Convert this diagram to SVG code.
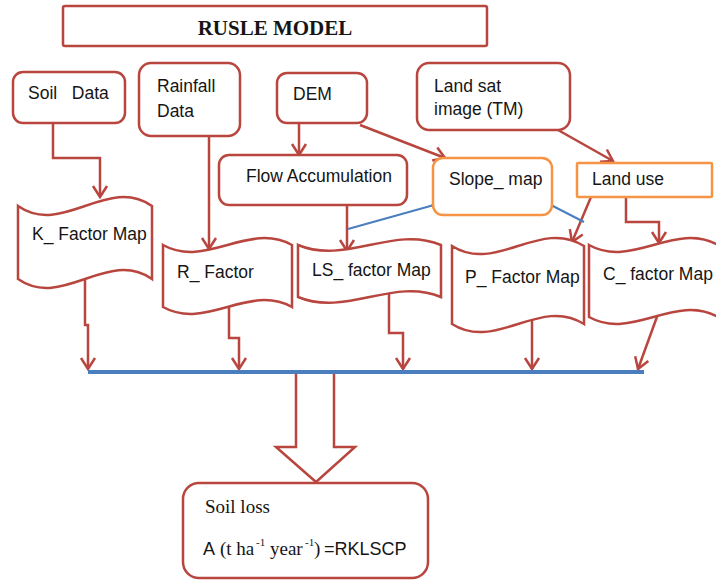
<svg xmlns="http://www.w3.org/2000/svg" width="716" height="581" viewBox="0 0 716 581">
<style>
.r{fill:#fff;stroke:#B8463F;stroke-width:2.5}
.o{fill:#fff;stroke:#F59445;stroke-width:2.5}
.c{fill:none;stroke:#B8463F;stroke-width:2.5;marker-end:url(#ah)}
.b{fill:none;stroke:#4A7EBF;stroke-width:2;marker-start:url(#dm)}
.t{font-family:"Liberation Sans",Arial,sans-serif;font-size:17.5px;fill:#151515}
.s{font-family:"Liberation Serif","Times New Roman",serif;fill:#151515}
.a{font-family:"Liberation Sans",Arial,sans-serif;font-size:18px;fill:#151515}
</style>
<defs>
<marker id="ah" markerUnits="userSpaceOnUse" viewBox="-14 -10 16 20" refX="0" refY="0" markerWidth="16" markerHeight="20" orient="auto">
<path d="M-11,-7 L0,0 L-11,7" fill="none" stroke="#B8463F" stroke-width="2.5"/>
</marker>
<marker id="dm" markerUnits="userSpaceOnUse" viewBox="-5 -5 10 10" refX="0" refY="0" markerWidth="10" markerHeight="10" orient="auto">
<path d="M-3.5,0 L0,-3 L3.5,0 L0,3 Z" fill="#4A7EBF"/>
</marker>
</defs>
<rect width="716" height="581" fill="#fff"/>

<g id="title">
<rect class="r" x="63" y="6" width="424" height="40" rx="2"/>
<text class="s" x="275" y="35" text-anchor="middle" font-size="21" font-weight="bold">RUSLE MODEL</text>
</g>

<g id="connectors">
<path class="c" d="M53,123 V158 H100 V197"/>
<path class="c" d="M209,136 V249"/>
<path class="c" d="M299,123 V155"/>
<path class="c" d="M360,125 L445,158"/>
<path class="c" d="M347,205 V251"/>
<path class="c" d="M558,130 L613,161"/>
<path class="c" d="M591,197 L572,242"/>
<path class="c" d="M626,197 V222 H659 V243"/>
<path class="c" d="M85,279 V325 H88 V369"/>
<path class="c" d="M229,307 V338 H239 V369"/>
<path class="c" d="M389,293 V333 H403 V369"/>
<path class="c" d="M532,320 V369"/>
<path class="c" d="M658,314 L638,369"/>
<path class="b" d="M434,205 L348,229"/>
<path class="b" d="M549,204 L584,222"/>
<path d="M296,372 V447 H276 L316,482 L355,447 H334 V372" fill="#fff" stroke="#B8463F" stroke-width="2.5"/>
<line x1="88" y1="372" x2="644" y2="372" stroke="#4A7EBF" stroke-width="4"/>
</g>

<g id="soil-data">
<rect class="r" x="13" y="72" width="112" height="51" rx="10"/>
<text class="t" x="28" y="99" style="white-space:pre">Soil   Data</text>
</g>
<g id="rainfall-data">
<rect class="r" x="139" y="63" width="101" height="73" rx="12"/>
<text class="t"><tspan x="157" y="92">Rainfall</tspan><tspan x="157" y="117">Data</tspan></text>
</g>
<g id="dem">
<rect class="r" x="277" y="73" width="90" height="50" rx="10"/>
<text class="t" x="293" y="100">DEM</text>
</g>
<g id="landsat">
<rect class="r" x="417" y="63" width="153" height="67" rx="12"/>
<text class="t"><tspan x="434" y="92">Land sat</tspan><tspan x="434" y="115">image (TM)</tspan></text>
</g>
<g id="flow-accumulation">
<rect class="r" x="219" y="155" width="188" height="50" rx="10"/>
<text class="t" x="246" y="182">Flow Accumulation</text>
</g>
<g id="slope-map">
<rect class="o" x="433" y="158" width="119" height="57" rx="10"/>
<text class="t" x="449" y="185">Slope_ map</text>
</g>
<g id="land-use">
<rect class="o" x="577" y="163" width="135" height="34" rx="1"/>
<text class="t" x="592" y="185">Land use</text>
</g>

<g id="k-factor">
<path class="r" d="M18,206 C62.7,237 107.3,175 152,206 V279 C107.3,248 62.7,310 18,279 Z"/>
<text class="t" x="32" y="240">K_ Factor Map</text>
</g>
<g id="r-factor">
<path class="r" d="M163,245 C206,269 249,221 292,245 V307 C249,283 206,331 163,307 Z"/>
<text class="t" x="177" y="278">R_ Factor</text>
</g>
<g id="ls-factor">
<path class="r" d="M298,245 C345.7,265 393.3,225 441,245 V297 C393.3,277 345.7,317 298,297 Z"/>
<text class="t" x="312" y="276">LS_ factor Map</text>
</g>
<g id="p-factor">
<path class="r" d="M452,246 C496,274 540,218 584,246 V324 C540,296 496,352 452,324 Z"/>
<text class="t" x="465" y="283">P_ Factor Map</text>
</g>
<g id="c-factor">
<path class="r" d="M589,245 C632,269 675,221 718,245 V317 C675,293 632,341 589,317 Z"/>
<text class="t" x="603" y="280">C_ factor Map</text>
</g>

<g id="soil-loss">
<rect class="r" x="183" y="483" width="245" height="95" rx="16"/>
<text class="s" x="205" y="513" font-size="19">Soil loss</text>
<text class="s" y="555" font-size="19"><tspan class="a" x="203">A</tspan><tspan x="220">(t ha</tspan><tspan x="256" y="546" font-size="11">-1</tspan><tspan x="270" y="555">year</tspan><tspan x="305" y="546" font-size="11">-1</tspan><tspan x="314" y="555">)</tspan><tspan class="a" x="324">=RKLSCP</tspan></text>
</g>
</svg>
